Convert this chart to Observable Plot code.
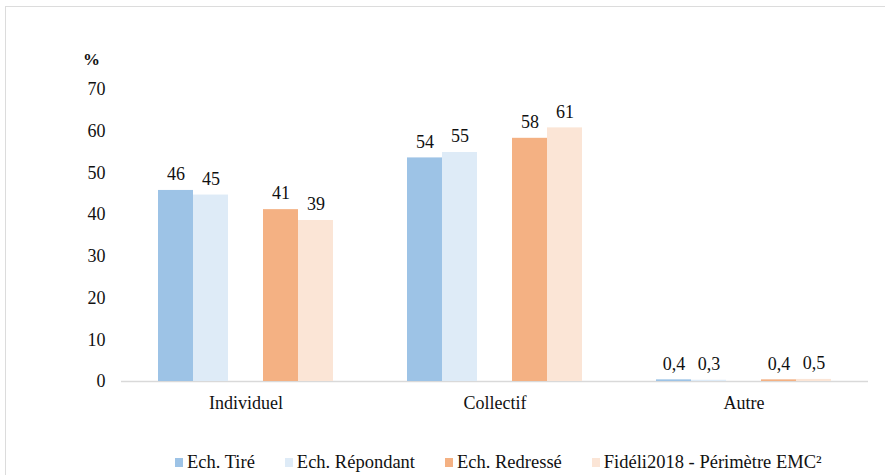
<!DOCTYPE html>
<html>
<head>
<meta charset="utf-8">
<script src="https://cdn.jsdelivr.net/npm/d3@7"></script>
<script src="https://cdn.jsdelivr.net/npm/@observablehq/plot@0.6"></script>
<style>
  html, body { margin: 0; padding: 0; background: #fff; }
  body { width: 885px; height: 475px; position: relative; overflow: hidden; color: #111; }
  body, body * { font-family: 'Liberation Serif', serif !important; }
  #frame { position: absolute; left: 5px; top: 6px; width: 920px; height: 520px;
           border-top: 1.5px solid #dcdcdc; border-left: 1.5px solid #dcdcdc; box-sizing: border-box; }
  #chart { position: absolute; left: 0; top: 0; }
  #unit { position: absolute; left: 83px; top: 49px; font-weight: bold; font-size: 17px; line-height: 22px; }
  #legend { position: absolute; left: 175px; top: 451px; height: 22px; display: flex; align-items: center;
            font-size: 18.5px; white-space: nowrap; }
  .item { display: flex; align-items: center; margin-right: 30px; }
  .sw { width: 8px; height: 9px; margin-right: 4px; }
</style>
</head>
<body>
<div id="frame"></div>
<div id="chart"></div>
<div id="unit">%</div>
<div id="legend"></div>
<script>
const categories = ["Individuel", "Collectif", "Autre"];
const series = ["Ech. Tiré", "Ech. Répondant", "Ech. Redressé", "Fidéli2018 - Périmètre EMC²"];
const colors = ["#9DC3E6", "#DEEBF7", "#F4B183", "#FBE5D6"];
const valTire = [45.8, 53.6, 0.4];
const valRepondant = [44.7, 54.9, 0.3];
const valRedresse = [41.2, 58.3, 0.4];
const valFideli = [38.6, 60.8, 0.5];
const yTicks = [0, 10, 20, 30, 40, 50, 60, 70];

const FONT = "'Liberation Serif', serif";
const seriesValues = [valTire, valRepondant, valRedresse, valFideli];
const data = [];
categories.forEach((c, i) => {
  series.forEach((s, j) => data.push({category: c, series: s, value: seriesValues[j][i]}));
});
const fmt = v => v >= 1 ? String(Math.round(v)) : String(v).replace(".", ",");
const gap = " ";
const slots = [series[0], series[1], gap, series[2], series[3]];

const chart = Plot.plot({
  width: 885,
  height: 440,
  marginLeft: 121,
  marginRight: 17,
  marginTop: 89,
  marginBottom: 59,
  style: {fontFamily: FONT, fontSize: "18px", color: "#111", background: "transparent"},
  fx: {domain: categories, padding: 0, label: null},
  x: {domain: slots, paddingInner: 0, paddingOuter: 1, axis: null},
  y: {domain: [0, 70], axis: null},
  color: {domain: series, range: colors},
  marks: [
    Plot.ruleY([0], {stroke: "#d9d9d9", strokeWidth: 1.5}),
    Plot.barY(data, {fx: "category", x: "series", y: "value", fill: "series"}),
    Plot.text(data, {fx: "category", x: "series", y: "value", text: d => fmt(d.value),
                     lineAnchor: "middle", dy: -16, fill: "#111"}),
    Plot.axisY({ticks: yTicks, tickSize: 0, tickPadding: 16, label: null, tickFormat: d => String(d)}),
    Plot.axisFx({anchor: "bottom", tickSize: 0, tickPadding: 15, label: null})
  ]
});
document.getElementById("chart").appendChild(chart);

const legend = document.getElementById("legend");
series.forEach((s, i) => {
  const it = document.createElement("div");
  it.className = "item";
  const sw = document.createElement("span");
  sw.className = "sw";
  sw.style.background = colors[i];
  const tx = document.createElement("span");
  tx.textContent = s;
  it.appendChild(sw);
  it.appendChild(tx);
  legend.appendChild(it);
});
document.querySelectorAll("text, tspan, span, div").forEach(el => {
  el.style.setProperty("font-family", FONT, "important");
});
</script>
</body>
</html>
